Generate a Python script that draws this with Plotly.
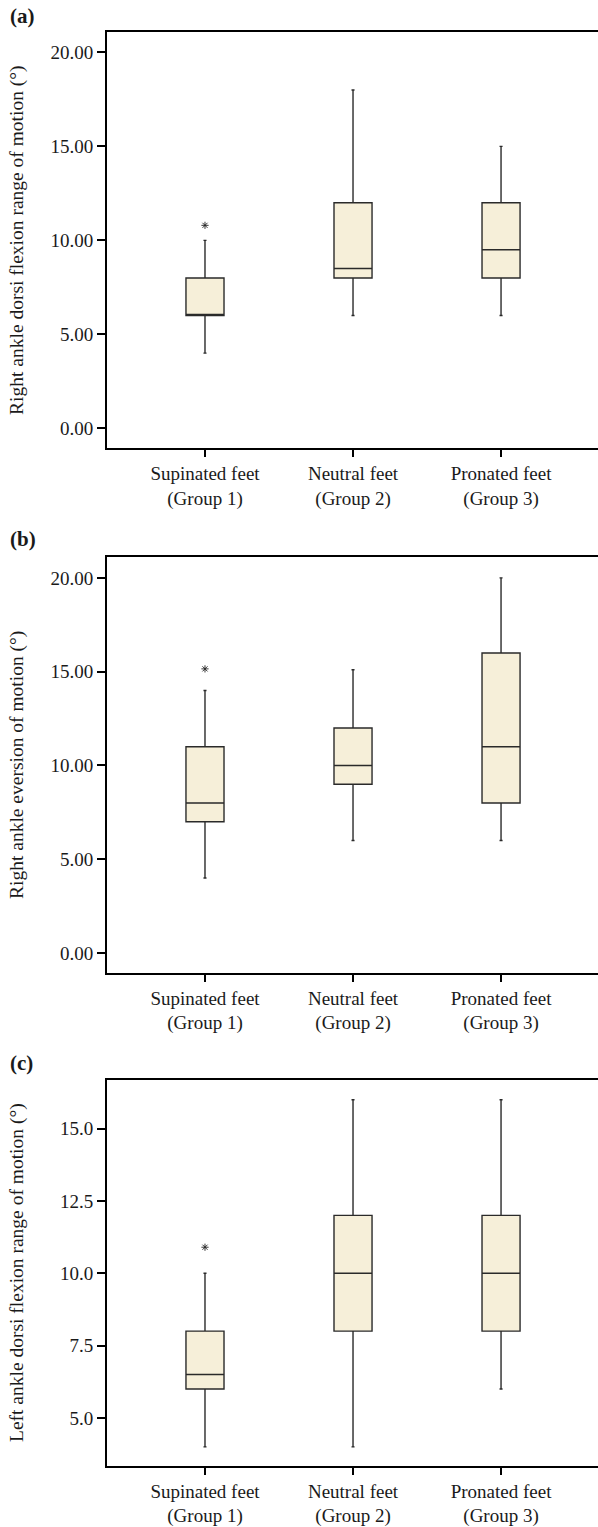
import plotly.graph_objects as go

W, H = 598, 1527

categories = ["Supinated feet<br>(Group 1)", "Neutral feet<br>(Group 2)", "Pronated feet<br>(Group 3)"]

# Panel (a): Right ankle dorsi flexion range of motion
a_lower = [4.0, 6.0, 6.0]
a_q1 = [6.0, 8.0, 8.0]
a_median = [6.0, 8.5, 9.5]
a_q3 = [8.0, 12.0, 12.0]
a_upper = [10.0, 18.0, 15.0]
a_outliers = [10.8]

# Panel (b): Right ankle eversion of motion
b_lower = [4.0, 6.0, 6.0]
b_q1 = [7.0, 9.0, 8.0]
b_median = [8.0, 10.0, 11.0]
b_q3 = [11.0, 12.0, 16.0]
b_upper = [14.0, 15.1, 20.0]
b_outliers = [15.15]

# Panel (c): Left ankle dorsi flexion range of motion
c_lower = [4.0, 4.0, 6.0]
c_q1 = [6.0, 8.0, 8.0]
c_median = [6.5, 10.0, 10.0]
c_q3 = [8.0, 12.0, 12.0]
c_upper = [10.0, 16.0, 16.0]
c_outliers = [10.9]

titles = [
    "Right ankle dorsi flexion range of motion (°)",
    "Right ankle eversion of motion (°)",
    "Left ankle dorsi flexion range of motion (°)",
]
panel_labels = ["(a)", "(b)", "(c)"]

FONT = "Liberation Serif, Times New Roman, serif"
FILL = "#F6EFD9"
TXT = "#1a1a1a"

# pixel geometry (top, bottom) of each plot frame
frames = [(31.7, 450.0), (559.3, 976.7), (1084.3, 1471.7)]
yranges = [[-1.06, 21.11], [-1.06, 21.11], [3.34, 16.68]]
ytickvals = [[0, 5, 10, 15, 20], [0, 5, 10, 15, 20], [5, 7.5, 10, 12.5, 15]]
ytickfmt = [".2f", ".2f", ".1f"]
label_y = [16, 541, 1067]
x_left = 107.0

panels = [
    (a_lower, a_q1, a_median, a_q3, a_upper, a_outliers),
    (b_lower, b_q1, b_median, b_q3, b_upper, b_outliers),
    (c_lower, c_q1, c_median, c_q3, c_upper, c_outliers),
]

fig = go.Figure()
annotations = []
layout = {}
for i, (lo, q1, med, q3, up, outl) in enumerate(panels):
    n = "" if i == 0 else str(i + 1)
    xa, ya = "x" + n, "y" + n
    fig.add_trace(go.Box(
        x=categories, q1=q1, median=med, q3=q3, lowerfence=lo, upperfence=up,
        xaxis=xa, yaxis=ya, width=0.257, whiskerwidth=0.08,
        fillcolor=FILL, line=dict(color="#2a2a2a", width=1.4),
        boxpoints=False, showlegend=False, hoverinfo="skip",
    ))
    fig.add_trace(go.Scatter(
        x=[categories[0]] * len(outl), y=outl, mode="markers", xaxis=xa, yaxis=ya,
        marker=dict(symbol="asterisk-open", size=6, color="#222", line=dict(width=0.9, color="#222")),
        showlegend=False, hoverinfo="skip",
    ))
    top, bot = frames[i]
    layout["xaxis" + n] = dict(
        domain=[x_left / W, 1.0], anchor=ya, type="category",
        range=[-0.662, 2.655], showgrid=False, zeroline=False,
        showline=True, linecolor="black", linewidth=2, mirror=True,
        ticks="outside", ticklen=7, tickwidth=2, tickcolor="black",
        tickfont=dict(family=FONT, size=19, color=TXT),
    )
    layout["yaxis" + n] = dict(
        domain=[1 - bot / H, 1 - top / H], anchor=xa,
        range=yranges[i], tickvals=ytickvals[i], tickformat=ytickfmt[i],
        showgrid=False, zeroline=False,
        showline=True, linecolor="black", linewidth=2, mirror=False,
        ticks="outside", ticklen=8, tickwidth=2, tickcolor="black",
        tickfont=dict(family=FONT, size=19, color=TXT),
    )
    annotations.append(dict(
        text=titles[i], textangle=-90, xref="paper", yref="paper",
        x=17 / W, y=1 - (top + bot) / 2 / H, xanchor="center", yanchor="middle",
        showarrow=False, font=dict(family=FONT, size=19.5, color=TXT),
    ))
    annotations.append(dict(
        text="<b>" + panel_labels[i] + "</b>", xref="paper", yref="paper",
        x=8 / W, y=1 - label_y[i] / H, xanchor="left", yanchor="middle",
        showarrow=False, font=dict(family=FONT, size=21, color=TXT),
    ))

fig.update_layout(
    width=W, height=H, margin=dict(l=0, r=0, t=0, b=0),
    paper_bgcolor="white", plot_bgcolor="white",
    annotations=annotations, **layout,
)
fig.write_html("out.html")
